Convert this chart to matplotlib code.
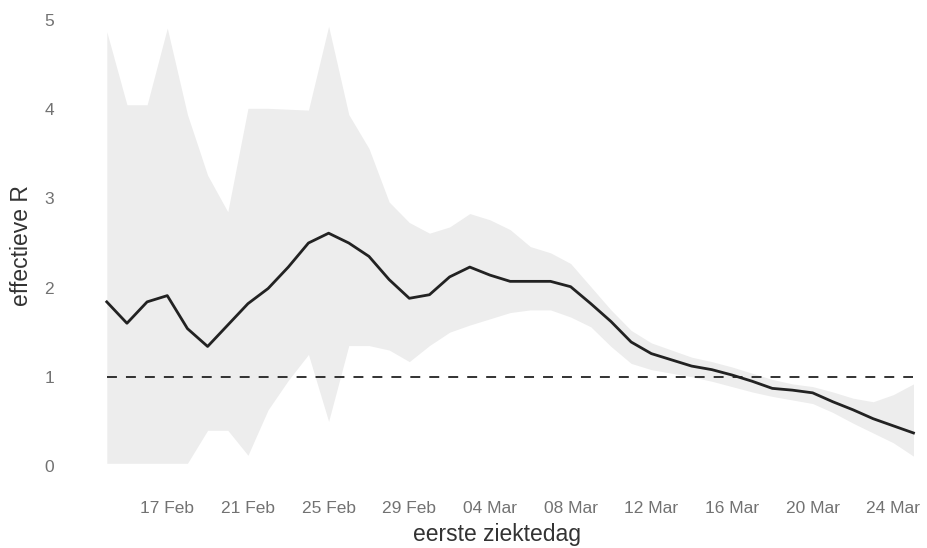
import numpy as np
import pandas as pd
import matplotlib
matplotlib.use("Agg")
import matplotlib.pyplot as plt

plt.rcParams['font.family'] = ['Liberation Sans', 'DejaVu Sans']

# daily estimates, 14 Feb - 25 Mar 2020
dates = pd.date_range("2020-02-14", "2020-03-25", freq="D")

r_mean = [1.84, 1.60, 1.84, 1.91, 1.54, 1.34, 1.58, 1.82, 1.99, 2.23,
          2.50, 2.61, 2.50, 2.35, 2.09, 1.88, 1.92, 2.12, 2.23, 2.14,
          2.07, 2.07, 2.07, 2.01, 1.82, 1.62, 1.39, 1.26, 1.19, 1.12,
          1.08, 1.02, 0.95, 0.87, 0.85, 0.82, 0.72, 0.63, 0.53, 0.45,
          0.37]
r_upper = [4.87, 4.05, 4.05, 4.91, 3.94, 3.26, 2.85, 4.01, 4.01, 4.00,
           3.99, 4.93, 3.94, 3.56, 2.96, 2.73, 2.61, 2.68, 2.83, 2.76,
           2.65, 2.46, 2.39, 2.27, 2.01, 1.75, 1.52, 1.38, 1.30, 1.22,
           1.17, 1.11, 1.04, 0.97, 0.92, 0.89, 0.83, 0.76, 0.72, 0.80,
           0.92]
r_lower = [0.03, 0.03, 0.03, 0.03, 0.03, 0.40, 0.40, 0.12, 0.63, 0.96,
           1.25, 0.50, 1.35, 1.35, 1.30, 1.17, 1.35, 1.50, 1.58, 1.65,
           1.72, 1.75, 1.75, 1.67, 1.56, 1.34, 1.15, 1.08, 1.04, 1.00,
           0.95, 0.89, 0.83, 0.78, 0.74, 0.70, 0.60, 0.48, 0.37, 0.26,
           0.11]

tick_dates = pd.to_datetime(["2020-02-17", "2020-02-21", "2020-02-25", "2020-02-29",
                             "2020-03-04", "2020-03-08", "2020-03-12", "2020-03-16",
                             "2020-03-20", "2020-03-24"])
tick_labels = ["17 Feb", "21 Feb", "25 Feb", "29 Feb", "04 Mar",
               "08 Mar", "12 Mar", "16 Mar", "20 Mar", "24 Mar"]
y_ticks = [0, 1, 2, 3, 4, 5]

fig = plt.figure(figsize=(9.28, 5.48), dpi=100)
ax = fig.add_axes([0.0716, 0.109, 0.9284, 0.887])

ax.fill_between(dates, r_lower, r_upper, color="#ededed", linewidth=0)
ax.plot(dates, r_mean, color="#222222", lw=2.0)
ax.plot(dates[[0, -1]], [1, 1], color="#222222", lw=1.3, dashes=(5.5, 5))

ax.set_xlim(dates[0] - pd.Timedelta(days=2), dates[0] + pd.Timedelta(days=40.72))
ax.set_ylim(-0.25, 5.2)

ax.set_xticks(tick_dates)
ax.set_xticklabels(tick_labels)
ax.set_yticks(y_ticks)
ax.tick_params(length=0, labelsize=12.5, labelcolor="#727272")
ax.tick_params(axis="x", pad=9)
ax.tick_params(axis="y", pad=9)

for s in ax.spines.values():
    s.set_visible(False)

ax.set_xlabel("eerste ziektedag", fontsize=16.5, color="#333333", labelpad=5)
ax.set_ylabel("effectieve R", fontsize=16.5, color="#333333", labelpad=8)

fig.savefig("out.png", dpi=100)
